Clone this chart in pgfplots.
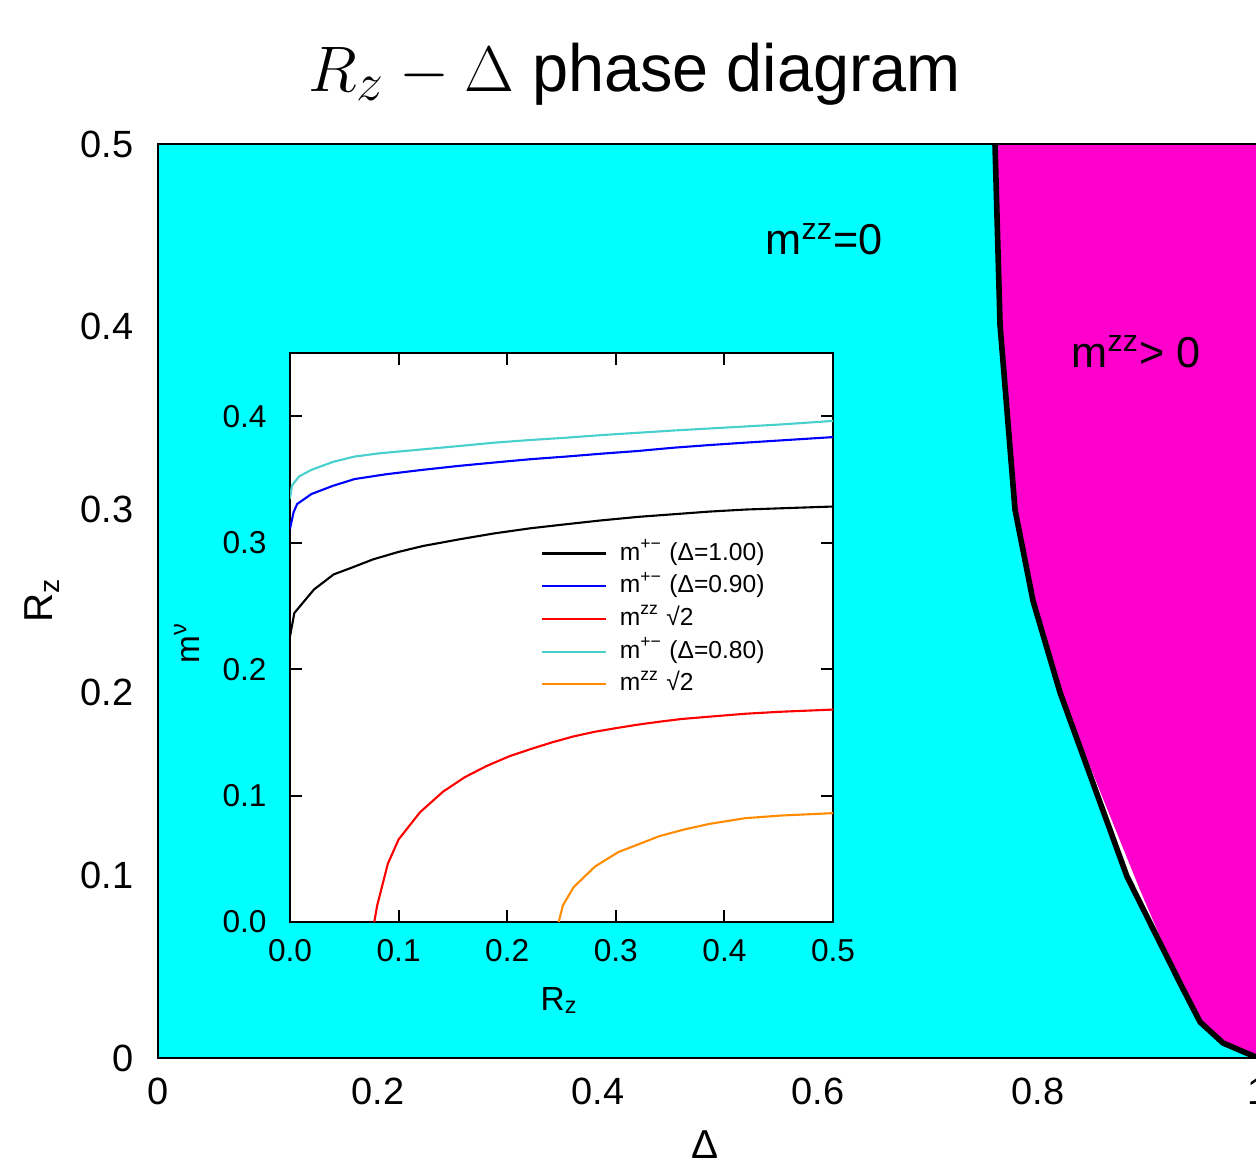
\documentclass[border=0pt]{standalone}
\usepackage{pgfplots}
\pgfplotsset{compat=1.18}
\usepackage{fontspec}
\setmainfont{Liberation Sans}
\definecolor{cyn}{RGB}{0,255,255}
\definecolor{mag}{RGB}{255,0,204}
\definecolor{turq}{RGB}{72,209,204}
\definecolor{dorange}{RGB}{255,140,0}
\begin{document}
\begin{tikzpicture}
\useasboundingbox (0mm,0mm) rectangle (125.6mm,116mm);
% main phase diagram
\begin{axis}[
  at={(15.8mm,10.2mm)}, anchor=south west,
  scale only axis, width=110mm, height=91.4mm,
  xmin=0, xmax=1, ymin=0, ymax=0.5,
  axis on top,
  xtick={0,0.2,0.4,0.6,0.8,1}, xticklabels={0,0.2,0.4,0.6,0.8,1},
  ytick={0,0.1,0.2,0.3,0.4,0.5}, yticklabels={0,0.1,0.2,0.3,0.4,0.5},
  major tick length=0pt,
  tick label style={font=\fontsize{10.8}{13}\selectfont},
  yticklabel style={xshift=-1.2mm},
  xticklabel style={yshift=-0.75mm},
  axis line style={line width=0.5pt},
]
\addplot[fill=cyn, draw=none] coordinates {(0,0) (0,0.5) (0.7609,0.5) (0.7655,0.401) (0.7791,0.3) (0.7955,0.25) (0.82,0.2) (0.8809,0.0993) (0.9291,0.041) (0.9473,0.0197) (0.9682,0.0082) (1,0)};
\addplot[fill=mag, draw=none] coordinates {(0.7609,0.5) (1,0.5) (1,0) (0.9682,0.0082) (0.9473,0.0197) (0.9291,0.041) (0.8927,0.092) (0.82,0.2) (0.7955,0.25) (0.7791,0.3) (0.7655,0.401)};
\addplot[black, line width=1.6pt] coordinates {(0.7609,0.5) (0.7655,0.401) (0.7791,0.3) (0.7955,0.25) (0.82,0.2) (0.8809,0.0993) (0.9291,0.041) (0.9473,0.0197) (0.9682,0.0082) (1,0)};
\node[anchor=base west, font=\fontsize{12.3}{14}\selectfont, inner sep=0pt] at (axis cs:0.5518,0.4393) {m\textsuperscript{zz}=0};
\node[anchor=base west, font=\fontsize{12.3}{14}\selectfont, inner sep=0pt] at (axis cs:0.830,0.378) {m\textsuperscript{zz}> 0};
\end{axis}
% inset
\begin{axis}[
  at={(29mm,23.8mm)}, anchor=south west,
  scale only axis, width=54.3mm, height=56.9mm,
  xmin=0, xmax=0.5, ymin=0, ymax=0.45,
  axis background/.style={fill=white},
  xtick={0,0.1,0.2,0.3,0.4,0.5}, xticklabels={0.0,0.1,0.2,0.3,0.4,0.5},
  ytick={0,0.1,0.2,0.3,0.4}, yticklabels={0.0,0.1,0.2,0.3,0.4},
  tick align=inside, major tick length=1.2mm,
  tick style={black, line width=0.6pt},
  axis line style={line width=0.6pt},
  tick label style={font=\fontsize{9}{11}\selectfont},
  yticklabel style={xshift=-1.1mm},
  xticklabel style={yshift=-0.45mm},
  legend style={at={(axis cs:0.2205,0.3105)}, anchor=north west, draw=none, fill=none,
    font=\fontsize{7}{8.5}\selectfont, row sep=0pt, column sep=1.1mm,
    nodes={inner sep=0.2mm, text height=2.1mm, text depth=0.77mm}},
  legend cell align=left,
  legend image code/.code={\draw[#1] (0mm,0mm) -- (6.4mm,0mm);},
]
\addplot[black, line width=0.6pt] coordinates {(0,0.2259)(0.004,0.2444)(0.0221,0.263)(0.0402,0.2749)(0.0567,0.2802)(0.0765,0.2868)(0.0995,0.2926)(0.1226,0.2974)(0.1556,0.3026)(0.1885,0.3074)(0.2215,0.3114)(0.2544,0.3146)(0.2874,0.3177)(0.3204,0.3204)(0.3533,0.3225)(0.3863,0.3246)(0.4193,0.3262)(0.4522,0.3272)(0.5,0.3286)};
\addlegendentry{m\textsuperscript{+−} (Δ=1.00)}
\addplot[blue, line width=0.6pt] coordinates {(0,0.311)(0.0033,0.3241)(0.0066,0.3306)(0.0198,0.3385)(0.0396,0.345)(0.0594,0.3503)(0.0891,0.3542)(0.1221,0.3576)(0.1551,0.3607)(0.1881,0.3634)(0.2211,0.366)(0.2541,0.3681)(0.2871,0.3704)(0.3201,0.3725)(0.3531,0.3751)(0.3861,0.3772)(0.4191,0.3791)(0.4521,0.3809)(0.5,0.3835)};
\addlegendentry{m\textsuperscript{+−} (Δ=0.90)}
\addplot[red, line width=0.6pt] coordinates {(0.0776,0)(0.0803,0.0132)(0.0901,0.0461)(0.1,0.0653)(0.1197,0.0868)(0.1411,0.1032)(0.1609,0.1145)(0.1806,0.1232)(0.202,0.1311)(0.2217,0.1368)(0.2414,0.1421)(0.2612,0.1468)(0.2809,0.1505)(0.3007,0.1534)(0.3204,0.1561)(0.3401,0.1584)(0.3599,0.1605)(0.3862,0.1624)(0.4191,0.1647)(0.452,0.1663)(0.5,0.168)};
\addlegendentry{m\textsuperscript{zz} √2}
\addplot[turq, line width=0.6pt] coordinates {(0,0.3346)(0.0017,0.345)(0.0083,0.3524)(0.0198,0.3576)(0.0396,0.3639)(0.0594,0.3681)(0.0825,0.3707)(0.1221,0.3738)(0.1551,0.3764)(0.1881,0.3791)(0.2211,0.3812)(0.2541,0.383)(0.2871,0.3851)(0.3201,0.3869)(0.3531,0.3887)(0.3861,0.3903)(0.4191,0.3919)(0.4521,0.3935)(0.5,0.3963)};
\addlegendentry{m\textsuperscript{+−} (Δ=0.80)}
\addplot[dorange, line width=0.6pt] coordinates {(0.2474,0)(0.2513,0.0132)(0.2612,0.0276)(0.2809,0.0439)(0.3023,0.0553)(0.3204,0.0613)(0.3401,0.0679)(0.3632,0.0732)(0.3862,0.0776)(0.4191,0.0821)(0.452,0.0842)(0.5,0.0861)};
\addlegendentry{m\textsuperscript{zz} √2}
\end{axis}
% titles and axis labels
\node[font=\fontsize{19}{22}\selectfont] at (63.5mm,108.6mm) {$\scalebox{1.06}{$R_z - \Delta$}$ \scalebox{0.97}[1]{phase diagram}};
\node[rotate=90, font=\fontsize{11.5}{13}\selectfont] at (4.2mm,56mm) {R\textsubscript{z}};
\node[anchor=base, font=\fontsize{11.5}{13}\selectfont] at (70.5mm,0.2mm) {Δ};
\node[rotate=90, font=\fontsize{9.5}{11}\selectfont] at (18.7mm,51.7mm) {m\textsuperscript{ν}};
\node[anchor=base, font=\fontsize{9.5}{11}\selectfont] at (55.95mm,15.0mm) {R\textsubscript{z}};
\end{tikzpicture}
\end{document}
